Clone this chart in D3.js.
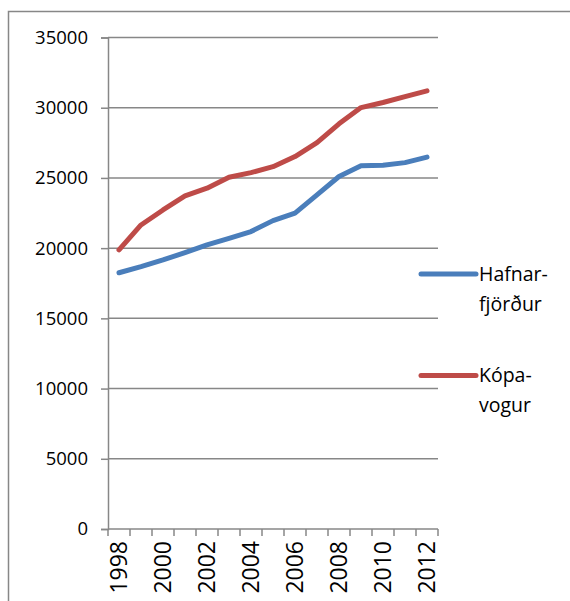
<!DOCTYPE html>
<html>
<head>
<meta charset="utf-8">
<script src="https://cdn.jsdelivr.net/npm/d3@7"></script>
<style>
  html, body { margin: 0; padding: 0; background: #fff; }
  svg { display: block; }
</style>
</head>
<body>
<svg id="chart"></svg>
<script>
const years = ['1998','1999','2000','2001','2002','2003','2004','2005','2006','2007','2008','2009','2010','2011','2012']
const hafnarfjordur = [18250, 18680, 19160, 19680, 20230, 20700, 21180, 21960, 22490, 23790, 25100, 25860, 25900, 26090, 26480]
const kopavogur = [19870, 21650, 22720, 23720, 24270, 25050, 25380, 25800, 26520, 27520, 28850, 30010, 30370, 30790, 31200]
const yTicks = [0, 5000, 10000, 15000, 20000, 25000, 30000, 35000]
const seriesNames = [['Hafnar-', 'fjörður'], ['Kópa-', 'vogur']]
const seriesColors = ['#4A7EBB', '#BE4B48']

const width = 570
const height = 601
const plot = { left: 108, right: 438, top: 37.5, bottom: 529 }
const font = '"Open Sans", sans-serif'
const grey = '#878787'

//set up svg container
const svg = d3.select('#chart')
    .attr('width', width)
    .attr('height', height)

// outer frame, runs off the picture on right and bottom
svg.append('rect')
    .attr('x', 8.5).attr('y', 11.5)
    .attr('width', 700).attr('height', 700)
    .attr('fill', 'none')
    .attr('stroke', grey)
    .attr('stroke-width', 1.5)

// scales
const x = d3.scaleBand().domain(years).range([plot.left, plot.right])
const y = d3.scaleLinear().domain([0, 35000]).range([plot.bottom, plot.top])

// gridlines
svg.append('g')
    .selectAll('line')
    .data(yTicks.filter(d => d > 0))
    .join('line')
        .attr('x1', plot.left).attr('x2', plot.right)
        .attr('y1', d => y(d)).attr('y2', d => y(d))
        .attr('stroke', grey)
        .attr('stroke-width', 1.5)

// y axis
const yAxis = svg.append('g')
    .attr('transform', `translate(${plot.left},0)`)
    .call(d3.axisLeft(y).tickValues(yTicks).tickSize(7).tickPadding(13).tickFormat(d3.format('d')))
yAxis.select('.domain').attr('stroke', grey).attr('stroke-width', 1.5)
yAxis.selectAll('.tick line').attr('stroke', grey).attr('stroke-width', 1.5)
yAxis.selectAll('text')
    .style('font-family', font)
    .style('font-size', '18.5px')
    .attr('fill', '#000')

// x axis: ticks on the band edges, labels every second year
const edges = years.map(d => x(d)).concat([plot.right])
const xAxis = svg.append('g')
xAxis.append('line')
    .attr('x1', plot.left).attr('x2', plot.right)
    .attr('y1', plot.bottom).attr('y2', plot.bottom)
    .attr('stroke', grey).attr('stroke-width', 1.5)
xAxis.selectAll('.edge')
    .data(edges)
    .join('line')
        .attr('class', 'edge')
        .attr('x1', d => d).attr('x2', d => d)
        .attr('y1', plot.bottom).attr('y2', plot.bottom + 7)
        .attr('stroke', grey).attr('stroke-width', 1.5)
xAxis.selectAll('text')
    .data(years.filter((d, i) => i % 2 === 0))
    .join('text')
        .text(d => d)
        .attr('transform', d => `translate(${x(d) + x.bandwidth() / 2},${plot.bottom + 12}) rotate(-90)`)
        .attr('text-anchor', 'end')
        .attr('dy', '0.36em')
        .style('font-family', font)
        .style('font-size', '23px')

// lines
const line = d3.line()
    .x((d, i) => x(years[i]) + x.bandwidth() / 2)
    .y(d => y(d))

svg.selectAll('.series')
    .data([hafnarfjordur, kopavogur])
    .join('path')
        .attr('class', 'series')
        .attr('d', line)
        .attr('fill', 'none')
        .attr('stroke', (d, i) => seriesColors[i])
        .attr('stroke-width', 5)
        .attr('stroke-linecap', 'round')
        .attr('stroke-linejoin', 'round')

// legend
const legend = svg.selectAll('.legend')
    .data(seriesNames)
    .join('g')
        .attr('class', 'legend')
        .attr('transform', (d, i) => `translate(421,${274 + i * 101.5})`)
legend.append('line')
    .attr('x1', 0).attr('x2', 55)
    .attr('stroke', (d, i) => seriesColors[i])
    .attr('stroke-width', 5)
    .attr('stroke-linecap', 'round')
legend.selectAll('text')
    .data(d => d)
    .join('text')
        .text(d => d)
        .attr('x', 58)
        .attr('y', (d, i) => i * 30)
        .attr('dy', '0.35em')
        .style('font-family', font)
        .style('font-size', '19.5px')
</script>
</body>
</html>
